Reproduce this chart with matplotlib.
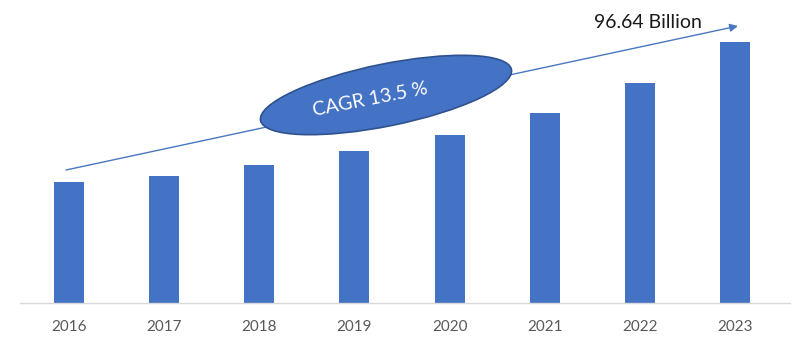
import matplotlib.pyplot as plt
from matplotlib.patches import Ellipse

years = ["2016", "2017", "2018", "2019", "2020", "2021", "2022", "2023"]
market_size = [44.9, 47.1, 51.1, 56.3, 62.2, 70.4, 81.5, 96.64]
cagr_label = "CAGR 13.5 %"
end_label = "96.64 Billion"

bar_color = "#4472C4"
plt.rcParams['font.family'] = ['Lato', 'DejaVu Sans']

fig = plt.figure(figsize=(8, 3.62), dpi=100)

# bar axes: spans 20..790 px horizontally, baseline at y=303 px
ax = fig.add_axes([0.025, 0.163, 0.9625, 0.837])
x = list(range(len(years)))
ax.bar(x, market_size, width=0.315, color=bar_color, zorder=2)
ax.set_xlim(-0.515, 7.578)
ax.set_ylim(0, 112.2)
ax.set_xticks(x)
ax.set_xticklabels(years, fontsize=11, color="#595959")
ax.tick_params(axis='x', length=0, pad=12)
ax.set_yticks([])
for side in ["top", "left", "right"]:
    ax.spines[side].set_visible(False)
ax.spines["bottom"].set_color("#D9D9D9")
ax.spines["bottom"].set_linewidth(1)

# overlay in pixel coordinates for the trend arrow and the CAGR bubble
ov = fig.add_axes([0, 0, 1, 1])
ov.set_xlim(0, 800)
ov.set_ylim(362, 0)
ov.axis("off")
ov.patch.set_alpha(0)

ov.annotate("", xy=(738, 26), xytext=(66, 170),
            arrowprops=dict(arrowstyle="-|>", color="#4A78C0", lw=1.0,
                            mutation_scale=12, shrinkA=0, shrinkB=0))
ell = Ellipse((386, 95), 256, 62, angle=-11.5, facecolor=bar_color,
              edgecolor="#2F528F", lw=1.2, zorder=3)
ov.add_patch(ell)
ov.text(370, 99, cagr_label, color="white", fontsize=14, rotation=11,
        ha="center", va="center", zorder=4, rotation_mode="anchor")
ov.text(648, 22, end_label, color="#1a1a1a", fontsize=14,
        ha="center", va="center")

fig.savefig("out.png", dpi=100)
